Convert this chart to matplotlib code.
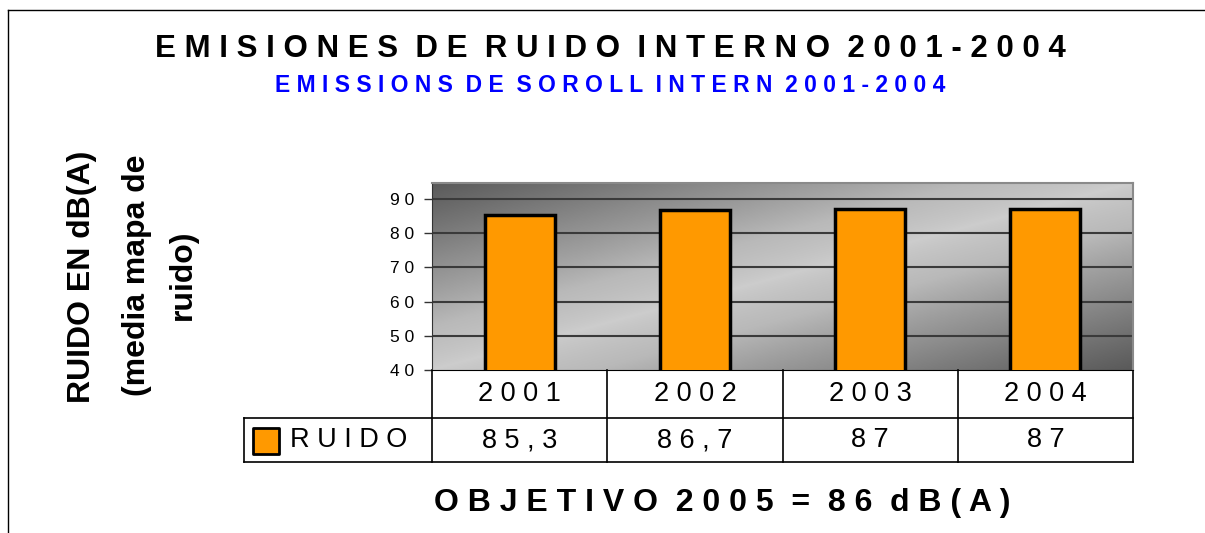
import numpy as np
import matplotlib.pyplot as plt
from matplotlib.colors import LinearSegmentedColormap

plt.rcParams['font.family'] = ['Liberation Sans', 'DejaVu Sans']

years = ['2001', '2002', '2003', '2004']
ruido = [85.3, 86.7, 87.0, 87.0]
yticks = [40, 50, 60, 70, 80, 90]
series_name = 'RUIDO'
title = 'EMISIONES DE RUIDO INTERNO 2001-2004'
subtitle = 'EMISSIONS DE SOROLL INTERN 2001-2004'
objetivo = 'OBJETIVO 2005 = 86 dB(A)'


def spaced(s, gap=2):
    # fake letter spacing: one space between letters, more between words
    return (' ' * gap).join(' '.join(w) for w in s.split())


def fmt(v):
    s = ('%.1f' % v).rstrip('0').rstrip('.')
    return s.replace('.', ',')


W, H = 1205, 533
fig = plt.figure(figsize=(W / 100, H / 100), dpi=100)

# outer frame (top and left edges only visible)
fig.add_artist(plt.Line2D([8 / W, 1], [1 - 10 / H, 1 - 10 / H], color='black', lw=1))
fig.add_artist(plt.Line2D([8 / W, 8 / W], [0, 1 - 10 / H], color='black', lw=1))

ax = fig.add_axes([432 / W, 1 - 370 / H, 701 / W, 187 / H])
x = np.arange(len(years))
ax.set_xlim(-0.5, len(years) - 0.5)
ax.set_ylim(40, 94.7)

# diagonal gray gradient background
u = np.linspace(0, 1, 300)
w = np.linspace(1, 0, 120)
U, Wg = np.meshgrid(u, w)
g = np.abs(U - Wg) ** 0.75
cmap = LinearSegmentedColormap.from_list('g', ['#cdcdcd', '#b9b9b9', '#8c8c8c', '#5a5a5a'])
ax.imshow(g, cmap=cmap, extent=[-0.5, len(years) - 0.5, 40, 94.7],
          aspect='auto', zorder=0, interpolation='bilinear')

for t in yticks[1:]:
    ax.axhline(t, color='#3a3a3a', lw=1.5, zorder=1)

ax.bar(x, ruido, width=0.4, color='#ff9900', edgecolor='black', lw=2.5, zorder=3)

ax.set_xticks([])
ax.set_yticks(yticks)
ax.set_yticklabels([spaced(str(t)) for t in yticks], fontsize=12.5)
ax.tick_params(axis='y', length=6, width=1, color='#333333', pad=7)
for side in ['top', 'right']:
    ax.spines[side].set_color('#8a8a8a')
    ax.spines[side].set_linewidth(1.5)
ax.spines['left'].set_color('#333333')
ax.spines['bottom'].set_color('black')

# data table under the plot
tr = ax.get_xaxis_transform()
row1 = -48 / 187
row2 = -92 / 187
xleft = -0.5 - (432 - 244) / (701 / len(years))
kw = dict(color='black', lw=1.2, transform=tr, clip_on=False)
ax.plot([xleft, len(years) - 0.5], [row1, row1], **kw)
ax.plot([xleft, len(years) - 0.5], [row2, row2], **kw)
ax.plot([xleft, xleft], [row1, row2], **kw)
for b in np.arange(len(years) + 1) - 0.5:
    ax.plot([b, b], [0, row2], **kw)

for i, (yr, v) in enumerate(zip(years, ruido)):
    ax.text(i, row1 / 2, spaced(yr), transform=tr, ha='center', va='center',
            fontsize=19.5)
    ax.text(i, (row1 + row2) / 2, spaced(fmt(v)), transform=tr, ha='center',
            va='center', fontsize=19.5)

ax.scatter([xleft + 0.125], [(row1 + row2) / 2 - 0.005], marker='s', s=330,
           color='#ff9900', edgecolor='black', lw=2, transform=tr, clip_on=False)
ax.text(xleft + 0.26, (row1 + row2) / 2, spaced(series_name), transform=tr,
        ha='left', va='center', fontsize=19.5)

# titles and labels
fig.text(610 / W, 1 - 49 / H, spaced(title), ha='center', va='center',
         fontsize=22.5, fontweight='bold')
fig.text(610 / W, 1 - 85 / H, spaced(subtitle), ha='center', va='center',
         fontsize=16.5, fontweight='bold', color='#0000ff')
fig.text(722 / W, 1 - 503 / H, spaced(objetivo), ha='center', va='center',
         fontsize=23, fontweight='bold')
fig.text(82 / W, 1 - 277 / H, 'RUIDO EN dB(A)', rotation=90, ha='center',
         va='center', fontsize=23, fontweight='bold')
fig.text(160 / W, 1 - 275 / H, '(media mapa de\nruido)', rotation=90,
         ha='center', va='center', fontsize=23, fontweight='bold',
         multialignment='center', linespacing=1.7)

fig.savefig('out.png', dpi=100)
